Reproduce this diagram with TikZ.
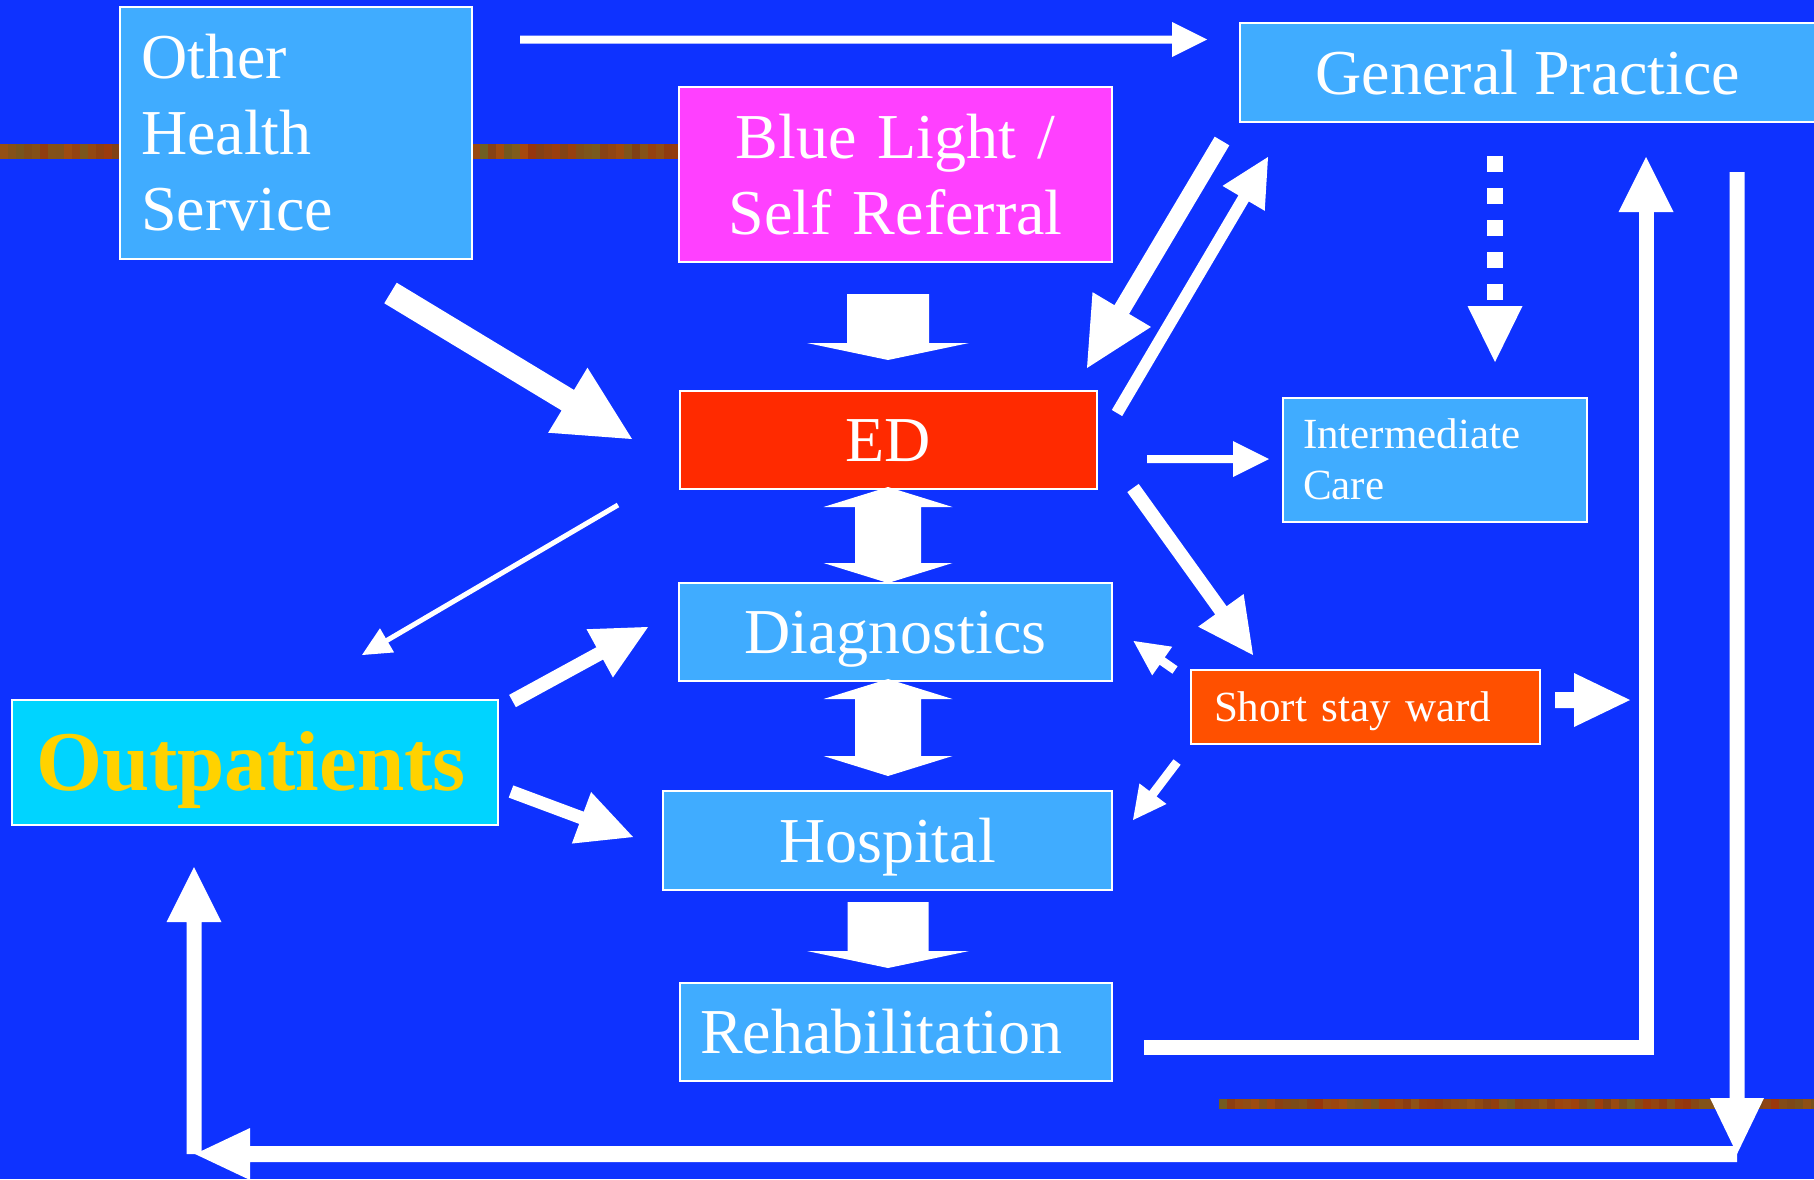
\documentclass[tikz,border=0pt]{standalone}
\usepackage{fontspec}
\setmainfont{Liberation Serif}
\usetikzlibrary{calc}

\definecolor{bgblue}{RGB}{14,50,255}
\definecolor{boxblue}{RGB}{64,172,255}
\definecolor{magentabox}{RGB}{255,64,255}
\definecolor{edred}{RGB}{255,42,0}
\definecolor{wardorange}{RGB}{255,80,0}
\definecolor{outcyan}{RGB}{0,212,255}
\definecolor{gold}{RGB}{255,210,0}
\definecolor{stripeA}{RGB}{170,72,12}
\definecolor{stripeB}{RGB}{110,100,35}
\definecolor{stripeC}{RGB}{140,40,12}

\newcommand\bigtext{\fontsize{32}{38}\selectfont}
\newcommand\smalltext{\fontsize{21.5}{25.5}\selectfont}
\newcommand\boldtext{\fontsize{42.5}{50}\selectfont\bfseries}

% straight block arrow: tail, tip, shaft half-width, head length, head half-width
\newcommand\blockarrow[5]{%
  \coordinate (ba-base) at ($(#2)!#4!(#1)$);
  \fill[arrowfill] ($(#1)!#3!90:(#2)$) -- ($(ba-base)!#3!90:(#2)$)
    -- ($(ba-base)!#5!90:(#2)$) -- (#2) -- ($(ba-base)!#5!-90:(#2)$)
    -- ($(ba-base)!#3!-90:(#2)$) -- ($(#1)!#3!-90:(#2)$) -- cycle;}
% two-headed block arrow: tip, tip, shaft half-width, head length, head half-width
\newcommand\twowayarrow[5]{%
  \coordinate (da-a) at ($(#1)!#4!(#2)$);
  \coordinate (da-b) at ($(#2)!#4!(#1)$);
  \fill[arrowfill] (#1) -- ($(da-a)!#5!90:(#2)$) -- ($(da-a)!#3!90:(#2)$)
    -- ($(da-b)!#3!-90:(#1)$) -- ($(da-b)!#5!-90:(#1)$) -- (#2)
    -- ($(da-b)!#5!90:(#1)$) -- ($(da-b)!#3!90:(#1)$)
    -- ($(da-a)!#3!-90:(#2)$) -- ($(da-a)!#5!-90:(#2)$) -- cycle;}
% triangular head only: point it comes from, tip, length, half-width
\newcommand\headonly[4]{%
  \coordinate (ho-base) at ($(#2)!#3!(#1)$);
  \fill[arrowfill] ($(ho-base)!#4!90:(#2)$) -- (#2) -- ($(ho-base)!#4!-90:(#2)$) -- cycle;}

\tikzset{
  arrowfill/.style={fill=white},
  box/.style={draw=white, line width=0.8pt, inner sep=0pt, text=white},
  bigline/.style={font=\bigtext, text height=21.5pt, text depth=0pt},
}

\begin{document}
\begin{tikzpicture}[x=0.5pt, y=-0.5pt]
\useasboundingbox (0,0) rectangle (1814,1179);
\clip (0,0) rectangle (1814,1179);
\fill[bgblue] (0,0) rectangle (1814,1179);

% textured bands
\pgfmathsetseed{11}
\foreach \x in {0,8,...,672} {
  \pgfmathtruncatemacro\pa{rnd*100}
  \pgfmathtruncatemacro\pb{40+rnd*60}
  \fill[stripeA!\pa!stripeB!\pb!stripeC] (\x,144) rectangle ++(8,15);
}
\foreach \x in {1219,1227,...,1814} {
  \pgfmathtruncatemacro\pa{rnd*100}
  \pgfmathtruncatemacro\pb{40+rnd*60}
  \fill[stripeA!\pa!stripeB!\pb!stripeC] (\x,1099) rectangle ++(8,10);
}

% boxes
\node[box, fill=boxblue, minimum width=176pt, minimum height=126pt,
      text width=155pt, align=left, font=\bigtext,
      text height=21.5pt, text depth=76pt] (other) at (296,133)
      {Other\\Health\\Service};
\node[box, fill=magentabox, minimum width=216.5pt, minimum height=87.5pt,
      text width=200pt, align=center, font=\bigtext,
      text height=21.5pt, text depth=38pt] (blue) at (895.5,174.5)
      {Blue Light /\\Self Referral};
\node[box, fill=boxblue, minimum width=288pt, minimum height=49.5pt, bigline]
      (gp) at (1528,72.5) {General Practice};
\node[box, fill=edred, minimum width=208.5pt, minimum height=49pt, bigline]
      (ed) at (888.5,440) {ED};
\node[box, fill=boxblue, minimum width=216.5pt, minimum height=49pt, bigline]
      (diag) at (895.5,632) {Diagnostics};
\node[box, fill=boxblue, minimum width=224.5pt, minimum height=49.5pt, bigline]
      (hosp) at (887.5,840.5) {Hospital};
\node[box, fill=boxblue, minimum width=216pt, minimum height=49pt, bigline,
      text width=196pt, align=left] (rehab) at (896,1032) {Rehabilitation};
\node[box, fill=boxblue, minimum width=152pt, minimum height=62pt,
      text width=132pt, align=left, font=\smalltext,
      text height=14.2pt, text depth=25.5pt] (inter) at (1435,460)
      {Intermediate\\Care};
\node[box, fill=wardorange, minimum width=174.5pt, minimum height=37pt,
      text width=151.5pt, align=left, font=\smalltext,
      text height=14.2pt, text depth=0pt] (short) at (1365.5,707)
      {Short stay ward};
\node[box, fill=outcyan, text=gold, minimum width=243pt, minimum height=62.5pt,
      text width=219pt, align=left, font=\boldtext,
      text height=28.1pt, text depth=0pt] (outp) at (255,762.5)
      {Outpatients};

% connector end points
\coordinate (ohs-gp-s) at (520,39.5);   \coordinate (ohs-gp-e) at (1207,39.5);
\coordinate (ohs-ed-s) at (390.5,293);  \coordinate (ohs-ed-e) at (632,439);
\coordinate (bl-ed-s) at (888,294);     \coordinate (bl-ed-e) at (888,360);
\coordinate (gp-ed-s) at (1222,141);    \coordinate (gp-ed-e) at (1087,368);
\coordinate (ed-gp-s) at (1117,413);    \coordinate (ed-gp-e) at (1268,157);
\coordinate (gp-ic-s) at (1495,156);    \coordinate (gp-ic-m) at (1495,306);
\coordinate (gp-ic-e) at (1495,362);
\coordinate (ed-ic-s) at (1147,459);    \coordinate (ed-ic-e) at (1269,459);
\coordinate (ed-ss-s) at (1133,488);    \coordinate (ed-ss-e) at (1253,655);
\coordinate (ed-op-s) at (618,505);     \coordinate (ed-op-e) at (362,655);
\coordinate (ed-dg-a) at (888,487);     \coordinate (ed-dg-b) at (888,583);
\coordinate (dg-hs-a) at (888,679);     \coordinate (dg-hs-b) at (888,776);
\coordinate (op-dg-s) at (512.5,701);   \coordinate (op-dg-e) at (648,627);
\coordinate (op-hs-s) at (511,791.5);   \coordinate (op-hs-e) at (633,837);
\coordinate (ss-dg-s) at (1175,670);    \coordinate (ss-dg-e) at (1133.5,641);
\coordinate (ss-hs-s) at (1177,762);    \coordinate (ss-hs-e) at (1133,820);
\coordinate (ss-out-s) at (1555,700);   \coordinate (ss-out-e) at (1630,700);
\coordinate (hs-rb-s) at (888,902);     \coordinate (hs-rb-e) at (888,968);
\coordinate (rb-gp-s) at (1144,1047);   \coordinate (rb-gp-c) at (1646,1047);
\coordinate (rb-gp-m) at (1646,212);    \coordinate (rb-gp-e) at (1646,157);
\coordinate (gp-dn-s) at (1737,172);    \coordinate (gp-dn-e) at (1737,1154);
\coordinate (bt-lf-s) at (1737,1154);   \coordinate (bt-lf-e) at (195,1154);
\coordinate (op-up-s) at (194,1154);    \coordinate (op-up-e) at (194,867);

% connectors
\blockarrow{ohs-gp-s}{ohs-gp-e}{2pt}{17.5pt}{8.75pt}
\blockarrow{ohs-ed-s}{ohs-ed-e}{6pt}{37.5pt}{19pt}
\blockarrow{bl-ed-s}{bl-ed-e}{20.5pt}{8.5pt}{40.5pt}
\blockarrow{gp-ed-s}{gp-ed-e}{4.25pt}{34pt}{17pt}
\blockarrow{ed-gp-s}{ed-gp-e}{3pt}{24pt}{12.25pt}
\draw[white, line width=8pt, dash pattern=on 8pt off 8pt] (gp-ic-s) -- (gp-ic-m);
\headonly{gp-ic-m}{gp-ic-e}{28pt}{13.75pt}
\blockarrow{ed-ic-s}{ed-ic-e}{2pt}{18pt}{9pt}
\blockarrow{ed-ss-s}{ed-ss-e}{3.5pt}{27.5pt}{14pt}
\blockarrow{ed-op-s}{ed-op-e}{1.25pt}{14.5pt}{7pt}
\twowayarrow{ed-dg-a}{ed-dg-b}{16.5pt}{10pt}{32.25pt}
\twowayarrow{dg-hs-a}{dg-hs-b}{16.5pt}{10pt}{32.25pt}
\blockarrow{op-dg-s}{op-dg-e}{3.5pt}{27.5pt}{13.75pt}
\blockarrow{op-hs-s}{op-hs-e}{3.25pt}{27.5pt}{13.75pt}
\blockarrow{ss-dg-s}{ss-dg-e}{2.25pt}{17.5pt}{8.75pt}
\blockarrow{ss-hs-s}{ss-hs-e}{2.25pt}{16.5pt}{8.5pt}
\blockarrow{ss-out-s}{ss-out-e}{4pt}{28pt}{13.5pt}
\blockarrow{hs-rb-s}{hs-rb-e}{20.25pt}{8.5pt}{40.5pt}
\draw[white, line width=7.5pt, line join=miter] (rb-gp-s) -- (rb-gp-c) -- (rb-gp-m);
\headonly{rb-gp-m}{rb-gp-e}{27.5pt}{13.75pt}
\blockarrow{gp-dn-s}{gp-dn-e}{3.75pt}{28pt}{13.5pt}
\blockarrow{bt-lf-s}{bt-lf-e}{4pt}{27.5pt}{13pt}
\blockarrow{op-up-s}{op-up-e}{3.75pt}{27.5pt}{13.75pt}
\end{tikzpicture}
\end{document}
